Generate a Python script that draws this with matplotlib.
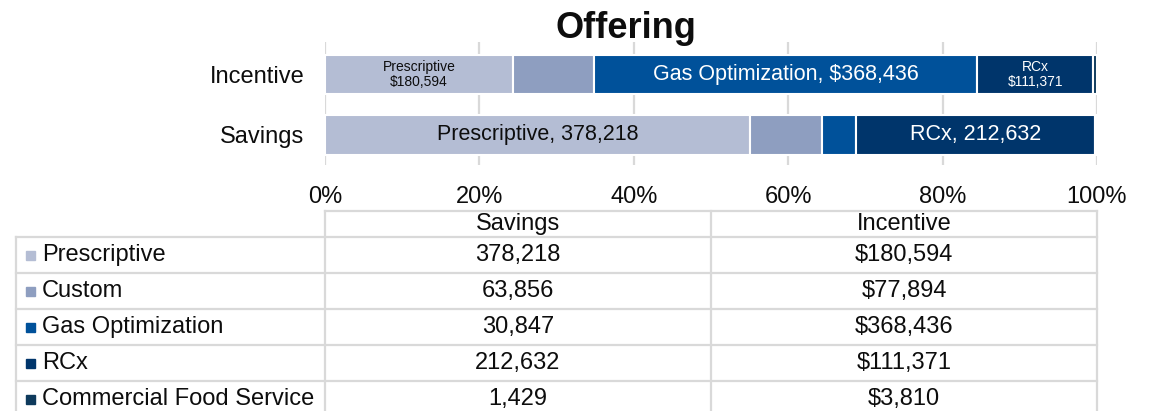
import numpy as np
import matplotlib.pyplot as plt
from matplotlib.patches import Rectangle

plt.rcParams['font.family'] = ['Liberation Sans', 'DejaVu Sans']

offerings = ['Prescriptive', 'Custom', 'Gas Optimization', 'RCx',
             'Commercial Food Service']
savings = [378218, 63856, 30847, 212632, 1429]
incentive = [180594, 77894, 368436, 111371, 3810]
colors = ['#B4BDD4', '#8E9EC0', '#00519A', '#00356B', '#0E3A5C']
row_names = ['Savings', 'Incentive']
ticks = [0, 0.2, 0.4, 0.6, 0.8, 1.0]

W, H = 1154, 411
txt = '#0d0d0d'


def px(l, t, r, b):
    return [l / W, 1 - b / H, (r - l) / W, (b - t) / H]


fig = plt.figure(figsize=(W / 100, H / 100), dpi=100)

# stacked 100% bars
ax = fig.add_axes(px(325, 42, 1097, 165))
data = np.array([savings, incentive], dtype=float)
share = data / data.sum(axis=1, keepdims=True)
left = np.zeros(2)
for i, name in enumerate(offerings):
    ax.barh([0, 1], share[:, i], left=left, height=0.66, color=colors[i],
            edgecolor='white', linewidth=1.5, zorder=3)
    left += share[:, i]
starts = np.cumsum(share, axis=1) - share

# data labels
def lab(row, i, text, size, color):
    ax.text(starts[row, i] + share[row, i] / 2, row, text, ha='center',
            va='center', fontsize=size, color=color, zorder=4,
            linespacing=1.15)

lab(1, 0, '%s\n$%s' % (offerings[0], format(incentive[0], ',')), 10, txt)
lab(1, 2, '%s, $%s' % (offerings[2], format(incentive[2], ',')), 15.5, 'white')
lab(1, 3, '%s\n$%s' % (offerings[3], format(incentive[3], ',')), 10, 'white')
lab(0, 0, '%s, %s' % (offerings[0], format(savings[0], ',')), 15.5, txt)
lab(0, 3, '%s, %s' % (offerings[3], format(savings[3], ',')), 15.5, 'white')

ax.set_xlim(0, 1)
ax.set_ylim(-0.5, 1.54)
ax.set_xticks(ticks)
ax.set_xticklabels(['%d%%' % round(t * 100) for t in ticks])
ax.set_yticks([0, 1])
ax.set_yticklabels(row_names)
ax.tick_params(length=0, labelsize=17, colors=txt)
ax.tick_params(axis='x', pad=15)
ax.tick_params(axis='y', pad=15)
ax.grid(axis='x', color='#D9D9D9', linewidth=1.6, zorder=0)
ax.grid(axis='y', visible=False)
for s in ax.spines.values():
    s.set_visible(False)

fig.suptitle('Offering', x=626 / W, y=1 - 28 / H, va='center',
             fontsize=26, fontweight='bold', color=txt)

# data table
tab = fig.add_axes([0, 0, 1, 1])
tab.set_xlim(0, W)
tab.set_ylim(H, 0)
tab.axis('off')
lc = '#D9D9D9'
lw = 1.6
row_y = [237, 273, 309, 345, 381, 417]
tab.plot([325, 1097], [211, 211], color=lc, lw=lw)
for y in row_y:
    tab.plot([16, 1097], [y, y], color=lc, lw=lw, clip_on=False)
tab.plot([16, 16], [237, 417], color=lc, lw=lw, clip_on=False)
for x in [325, 711, 1097]:
    tab.plot([x, x], [211, 417], color=lc, lw=lw, clip_on=False)

tab.text(518, 224, row_names[0], ha='center', va='center', fontsize=17,
         color=txt)
tab.text(904, 224, row_names[1], ha='center', va='center', fontsize=17,
         color=txt)
for i, name in enumerate(offerings):
    yc = (row_y[i] + row_y[i + 1]) / 2
    tab.add_patch(Rectangle((26, yc - 4.5), 9, 9, color=colors[i]))
    tab.text(42, yc, name, ha='left', va='center', fontsize=17, color=txt)
    tab.text(518, yc, format(savings[i], ','), ha='center', va='center',
             fontsize=17, color=txt)
    tab.text(904, yc, '$' + format(incentive[i], ','), ha='center',
             va='center', fontsize=17, color=txt)

fig.savefig('out.png', dpi=100)
